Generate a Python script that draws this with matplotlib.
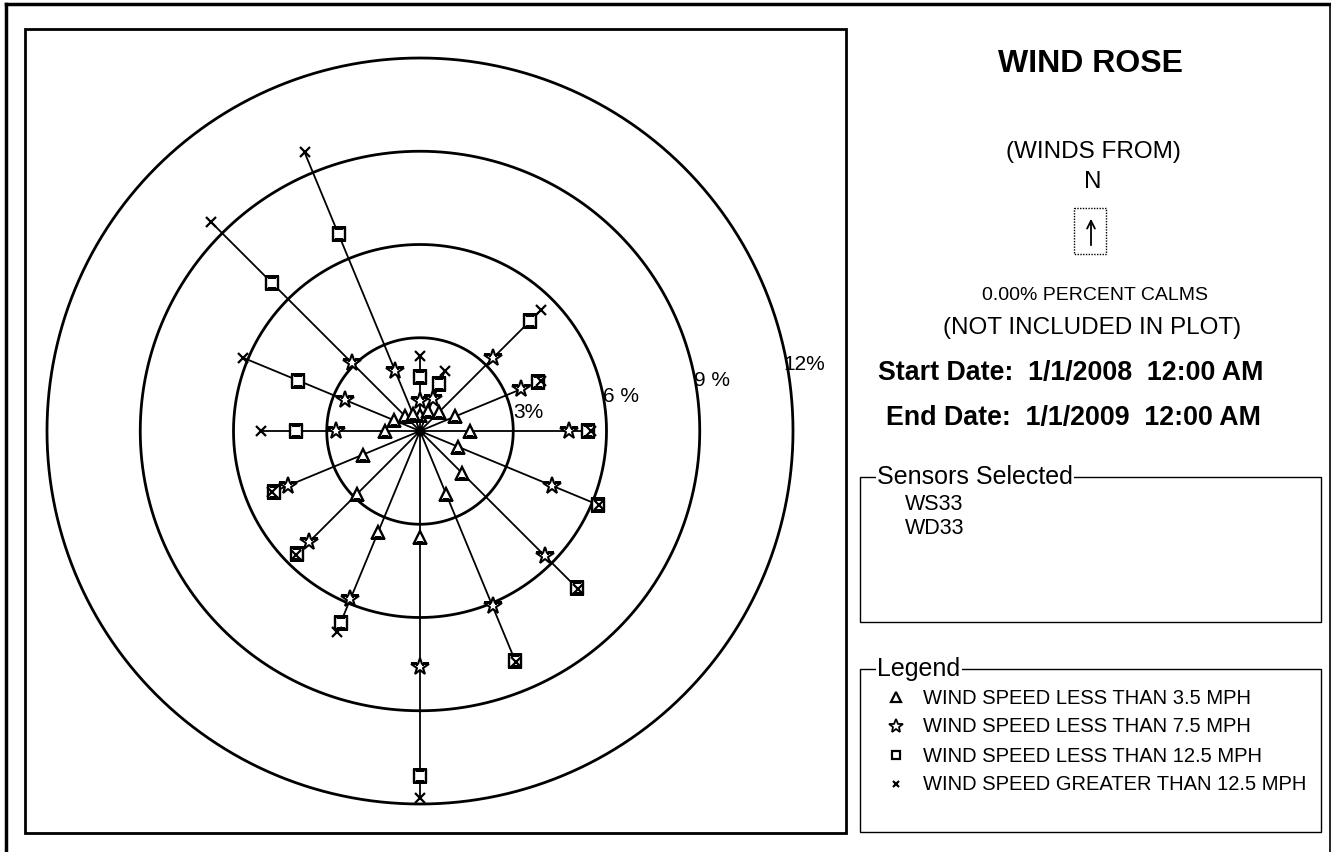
import numpy as np
import matplotlib
matplotlib.use("Agg")
import matplotlib.pyplot as plt
from matplotlib.patches import Rectangle

plt.rcParams['font.family'] = ['Liberation Sans', 'DejaVu Sans']

# ---- data (cumulative percent of time, winds FROM direction) ----
directions = ["N", "NNE", "NE", "ENE", "E", "ESE", "SE", "SSE",
              "S", "SSW", "SW", "WSW", "W", "WNW", "NW", "NNW"]
dir_degrees = [0, 22.5, 45, 67.5, 90, 112.5, 135, 157.5,
               180, 202.5, 225, 247.5, 270, 292.5, 315, 337.5]
pct_lt_3_5 = [0.5, 0.7, 0.85, 1.23, 1.6, 1.33, 1.9, 2.2,
              3.4, 3.5, 2.86, 2.0, 1.13, 0.9, 0.7, 0.6]
pct_lt_7_5 = [0.95, 1.1, 3.3, 3.5, 4.8, 4.6, 5.7, 6.1,
              7.6, 5.85, 5.05, 4.6, 2.7, 2.6, 3.1, 2.1]
pct_lt_12_5 = [1.75, 1.62, 5.0, 4.1, 5.4, 6.2, 7.15, 8.0,
               11.1, 6.67, 5.6, 5.1, 4.0, 4.24, 6.75, 6.85]
pct_gt_12_5 = [2.4, 2.08, 5.5, 4.2, 5.5, 6.25, 7.2, 8.05,
               11.8, 7.0, 5.65, 5.15, 5.1, 6.15, 9.5, 9.7]
ring_values = [3, 6, 9, 12]
ring_labels = ["3%", "6 %", "9 %", "12%"]
legend_labels = ["WIND SPEED LESS THAN 3.5 MPH",
                 "WIND SPEED LESS THAN 7.5 MPH",
                 "WIND SPEED LESS THAN 12.5 MPH",
                 "WIND SPEED GREATER THAN 12.5 MPH"]
sensors = ["WS33", "WD33"]

W, H = 1331, 853
fig = plt.figure(figsize=(W / 100, H / 100), dpi=100)

# background overlay in pixel coordinates
bg = fig.add_axes([0, 0, 1, 1])
bg.set_xlim(0, W)
bg.set_ylim(H, 0)
bg.axis("off")

# outer frame
bg.plot([6, 6], [5, H], color="black", lw=2.5)
bg.plot([6, 1330], [5, 5], color="black", lw=2.5)
bg.plot([1329.5, 1329.5], [5, H], color="black", lw=1.2)
# left panel
bg.add_patch(Rectangle((25, 30), 821, 804, fill=False, ec="black", lw=2.0))
# sensors box
bg.add_patch(Rectangle((860, 478), 461, 145, fill=False, ec="black", lw=1.0))
bg.text(877, 477, "Sensors Selected", fontsize=18, va="center", ha="left",
        bbox=dict(fc="white", ec="none", pad=1))
for i, s in enumerate(sensors):
    bg.text(905, 505 + 23 * i, s, fontsize=15.5, va="center", ha="left")
# legend box
bg.add_patch(Rectangle((860, 670), 461, 163, fill=False, ec="black", lw=1.0))
bg.text(877, 669, "Legend", fontsize=18, va="center", ha="left",
        bbox=dict(fc="white", ec="none", pad=1))
leg_markers = [dict(marker="^", ms=7, mfc="none", mec="black", mew=1.6),
               dict(marker="*", ms=10, mfc="none", mec="black", mew=1.3),
               dict(marker="s", ms=6, mfc="none", mec="black", mew=1.6),
               dict(marker="x", ms=5, mec="black", mew=1.6)]
for i, (lab, mk) in enumerate(zip(legend_labels, leg_markers)):
    yy = 698 + 29 * i
    bg.plot([896], [yy], linestyle="none", **mk)
    bg.text(923, yy, lab, fontsize=14.5, va="center", ha="left")

# right title block
bg.text(1091, 64, "WIND ROSE", fontsize=23, fontweight="bold", ha="center", va="center")
bg.text(1093, 152, "(WINDS FROM)", fontsize=17.5, ha="center", va="center")
bg.text(1093, 182, "N", fontsize=17.5, ha="center", va="center")
bg.add_patch(Rectangle((1074, 209), 32, 46, fill=False, ec="black", lw=1.0, ls=(0, (1, 1))))
bg.annotate("", xy=(1091, 217), xytext=(1091, 249),
            arrowprops=dict(arrowstyle="->", color="black", lw=1.3, mutation_scale=14))
bg.text(1095, 295, "0.00% PERCENT CALMS", fontsize=14, ha="center", va="center")
bg.text(1092, 328, "(NOT INCLUDED IN PLOT)", fontsize=17.5, ha="center", va="center")
bg.text(1071, 373, "Start Date:  1/1/2008  12:00 AM", fontsize=19.3, fontweight="bold",
        ha="center", va="center")
bg.text(1073, 418, "End Date:  1/1/2009  12:00 AM", fontsize=19.3, fontweight="bold",
        ha="center", va="center")

# ---- wind rose polar axes ----
cx, cy, R = 420, 432, 373
ax = fig.add_axes([(cx - R) / W, (H - cy - R) / H, 2 * R / W, 2 * R / H], projection="polar")
ax.set_theta_zero_location("N")
ax.set_theta_direction(-1)
ax.set_ylim(0, 12)
ax.set_yticks([])
ax.set_xticks([])
ax.tick_params(length=0)
ax.grid(False)
ax.spines["polar"].set_visible(False)
ax.patch.set_alpha(0)

tt = np.linspace(0, 2 * np.pi, 1441)
for rv in ring_values:
    ax.plot(tt, np.full_like(tt, rv), color="black", lw=2.0, zorder=1,
            solid_capstyle="butt", solid_joinstyle="round", clip_on=False)

theta = np.deg2rad(dir_degrees)
for th, r in zip(theta, pct_gt_12_5):
    ax.plot([th, th], [0, r], color="black", lw=1.3, zorder=2, solid_capstyle="butt")

ax.plot(theta, pct_lt_3_5, linestyle="none", marker="^", ms=9, mfc="white", mec="black", mew=1.7, zorder=3)
ax.plot(theta, pct_lt_7_5, linestyle="none", marker="*", ms=13, mfc="white", mec="black", mew=1.5, zorder=3)
ax.plot(theta, pct_lt_12_5, linestyle="none", marker="s", ms=8, mfc="white", mec="black", mew=1.7, zorder=3)
ax.plot(theta, pct_gt_12_5, linestyle="none", marker="x", ms=7, mec="black", mew=1.6, zorder=4)
ax.plot([0], [0], marker="o", ms=6, color="black", zorder=5)

for rv, lab in zip(ring_values, ring_labels):
    ax.text(np.deg2rad(80), rv + 0.55, lab, fontsize=15, ha="center", va="center",
            clip_on=False)

fig.savefig("out.png", dpi=100)
